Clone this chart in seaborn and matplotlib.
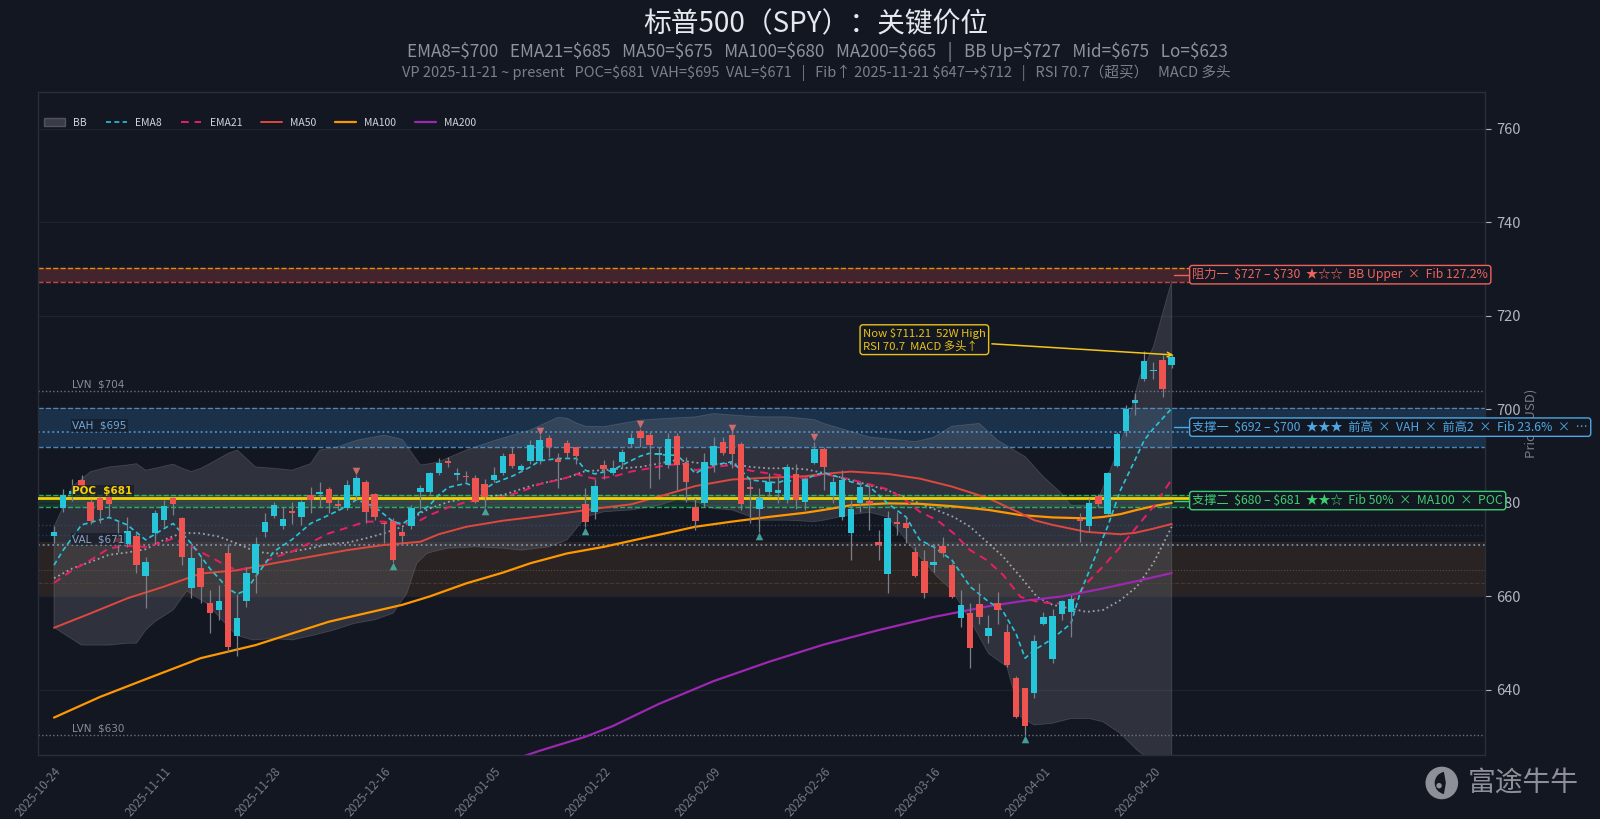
import numpy as np
import pandas as pd
import matplotlib
matplotlib.use('Agg')
import matplotlib.pyplot as plt
import seaborn as sns
from matplotlib.patches import Patch, Circle, Wedge
from matplotlib.lines import Line2D

BG = '#131722'
UP = '#26c6da'
DN = '#ef5350'

# ---- daily candles (2025-10-24 .. 2026-04-22) ----
opens = [673.0, 679.0, 682.0, 685.0, 680.2, 681.1, 681.2, 672.4, 671.3, 672.9,
         664.4, 673.6, 676.3, 681.0, 676.7, 661.9, 666.0, 658.5, 657.2, 669.2,
         651.5, 659.1, 665.1, 673.8, 677.2, 675.0, 678.2, 676.9, 681.7, 681.8,
         682.9, 679.6, 679.0, 681.5, 684.4, 681.9, 675.7, 676.2, 673.8, 675.1,
         682.3, 682.3, 686.3, 689.0, 686.0, 685.8, 685.4, 684.0, 684.9, 686.3,
         690.4, 687.0, 688.9, 689.0, 693.8, 689.3, 692.9, 691.9, 679.7, 678.0,
         688.1, 686.5, 688.8, 692.6, 695.4, 694.6, 690.3, 688.0, 694.4, 688.6,
         679.2, 679.9, 688.0, 693.1, 694.6, 692.6, 683.1, 678.6, 682.4, 682.2,
         680.7, 686.2, 680.2, 688.6, 691.5, 681.5, 677.0, 673.5, 679.9, 680.5,
         671.7, 664.8, 676.0, 675.8, 669.6, 667.6, 666.7, 670.8, 666.7, 655.3,
         656.5, 658.3, 651.6, 658.7, 652.3, 642.6, 640.4, 639.3, 654.2, 646.6,
         656.2, 656.7, 676.5, 675.0, 681.5, 677.6, 687.9, 695.4, 701.4, 706.4,
         708.1, 710.5, 709.5]
highs = [675.0, 683.0, 685.2, 686.0, 680.8, 681.7, 681.7, 676.1, 677.0, 673.5,
         668.5, 678.5, 680.6, 681.3, 677.0, 670.6, 668.5, 661.4, 662.4, 671.3,
         660.6, 666.4, 672.8, 677.8, 680.2, 679.2, 680.2, 680.6, 683.5, 684.5,
         683.3, 680.9, 684.9, 685.9, 684.9, 682.2, 676.0, 676.7, 674.9, 679.5,
         683.8, 686.7, 689.5, 689.9, 687.4, 686.8, 686.0, 685.2, 687.7, 690.6,
         692.0, 688.4, 693.4, 694.5, 694.5, 690.6, 693.4, 692.0, 683.1, 685.2,
         689.2, 689.2, 691.6, 694.9, 695.9, 695.2, 692.0, 694.9, 694.9, 689.9,
         681.0, 690.6, 694.1, 694.1, 695.2, 693.1, 684.9, 683.1, 686.3, 685.6,
         688.4, 688.4, 685.6, 693.1, 692.0, 685.6, 687.0, 680.6, 684.5, 683.8,
         674.3, 678.3, 678.1, 677.0, 670.6, 669.9, 671.3, 672.8, 667.1, 661.4,
         658.5, 662.8, 656.0, 661.0, 654.2, 642.9, 640.4, 651.7, 656.7, 657.4,
         659.2, 660.3, 677.9, 681.0, 682.0, 686.7, 695.2, 700.9, 703.4, 712.5,
         710.2, 711.6, 711.9]
lows = [671.5, 678.0, 680.5, 682.0, 675.5, 675.6, 677.0, 669.5, 670.6, 665.0,
        657.5, 671.3, 674.9, 677.4, 666.7, 659.6, 658.5, 652.1, 655.0, 648.2,
        647.2, 657.8, 660.8, 672.8, 676.7, 674.5, 675.5, 675.3, 677.8, 679.2,
        677.8, 678.5, 678.5, 680.6, 675.6, 676.3, 671.4, 667.4, 671.4, 674.5,
        678.8, 682.0, 686.0, 687.7, 684.9, 684.5, 679.9, 679.2, 684.5, 686.0,
        687.4, 686.7, 688.4, 688.4, 689.9, 683.1, 689.5, 688.4, 674.9, 676.5,
        685.2, 686.0, 687.4, 692.0, 692.0, 683.1, 685.2, 687.4, 682.7, 680.2,
        674.2, 679.2, 686.7, 690.2, 687.4, 678.5, 675.6, 673.8, 681.3, 679.9,
        679.9, 678.8, 678.5, 688.4, 682.7, 679.9, 676.3, 667.9, 678.1, 674.2,
        667.9, 660.7, 673.1, 671.4, 664.2, 659.6, 665.3, 668.5, 659.6, 653.5,
        644.8, 654.2, 650.0, 654.2, 645.0, 634.0, 630.4, 638.2, 653.9, 645.7,
        655.0, 651.4, 671.7, 673.8, 679.2, 677.4, 687.7, 694.3, 698.8, 706.1,
        706.6, 702.7, 708.8]
closes = [673.7, 681.7, 682.6, 683.7, 676.2, 678.4, 679.7, 671.7, 673.9, 666.8,
          667.4, 677.8, 679.3, 679.7, 668.5, 668.3, 662.1, 656.5, 659.0, 649.1,
          655.3, 665.1, 671.3, 676.0, 679.5, 676.5, 677.8, 680.1, 680.7, 682.3,
          679.9, 679.4, 683.8, 685.4, 678.1, 677.0, 675.5, 667.8, 672.9, 679.0,
          683.1, 686.3, 688.6, 688.6, 686.3, 685.5, 680.2, 681.3, 686.0, 690.0,
          687.9, 687.9, 692.4, 693.4, 692.0, 688.7, 690.6, 690.0, 676.0, 683.6,
          687.2, 687.5, 690.9, 693.8, 693.8, 692.4, 690.7, 693.6, 688.0, 684.5,
          676.1, 688.8, 692.2, 690.6, 690.4, 679.7, 683.0, 681.1, 684.5, 682.7,
          687.7, 680.7, 685.2, 691.5, 687.7, 684.4, 684.8, 678.7, 683.5, 679.7,
          670.9, 676.7, 675.5, 674.7, 664.4, 660.7, 667.4, 669.2, 659.8, 658.2,
          648.9, 655.7, 653.3, 657.2, 645.3, 634.2, 632.2, 650.4, 655.5, 655.9,
          659.0, 659.4, 676.2, 680.0, 679.8, 686.3, 694.7, 700.1, 702.0, 710.3,
          708.3, 704.3, 711.21]

xtick_labels = ['2025-10-24', '2025-11-11', '2025-11-28', '2025-12-16', '2026-01-05',
                '2026-01-22', '2026-02-09', '2026-02-26', '2026-03-16', '2026-04-01',
                '2026-04-20']
xtick_pos = [0, 12, 24, 36, 48, 60, 72, 84, 96, 108, 120]

# ---- indicator lines (bar index, price) ----
ema8_x = [0, 1, 3, 6, 8, 10, 12, 13, 15, 17, 19, 20, 21, 22, 24, 26, 28, 30, 32, 33, 35, 37, 38, 40,
          41, 42, 43, 45, 46, 47, 48, 50, 52, 53, 55, 57, 58, 59, 61, 62, 64, 65, 67, 68, 69, 70, 71,
          72, 74, 75, 76, 78, 79, 80, 81, 83, 84, 85.5, 87, 89, 91, 93, 94.5, 96, 98, 100, 102,
          103.5, 105, 106, 107, 109, 111, 112, 113.5, 115, 116.4, 118, 119, 120, 122]
ema8_y = [666.7, 669.9, 675.3, 676.9, 675.3, 672.1, 674.5, 675.6, 671.3, 666.0, 661.7, 660.5,
          661.4, 664.2, 669.6, 672.2, 675.6, 677.4, 679.3, 680.7, 679.2, 676.0, 675.5, 678.1,
          679.5, 681.7, 683.3, 684.2, 683.3, 682.9, 684.2, 685.7, 687.7, 689.0, 689.5, 689.5,
          687.0, 686.2, 687.0, 688.1, 690.0, 690.6, 690.2, 690.2, 688.4, 686.3, 687.4, 688.1,
          688.8, 687.0, 684.9, 684.5, 684.3, 685.0, 684.2, 685.9, 686.5, 685.6, 684.5, 683.5,
          679.9, 677.0, 672.1, 670.6, 667.8, 662.1, 658.9, 657.1, 652.1, 646.8, 648.5, 651.0,
          654.2, 660.7, 667.8, 674.9, 682.7, 689.2, 693.4, 695.9, 700.2]

ema21_x = [0, 2, 4, 6, 8, 10, 12, 13, 15, 17, 19, 20, 22, 24, 26, 28, 30, 32, 34, 36, 38, 40, 41,
           43, 45, 47, 49, 51, 53, 55, 56, 57, 58, 59, 61, 63, 65, 67, 69, 70, 72, 74, 76, 78, 80,
           82, 84, 87, 89, 91, 92.7, 94.5, 96.4, 98.2, 100, 101.8, 103.6, 105.5, 107.3, 109, 111,
           112.7, 114.5, 116.4, 118.2, 120, 122]
ema21_y = [662.9, 665.6, 667.8, 670.3, 670.8, 670.6, 671.7, 672.4, 670.6, 668.5, 666.4, 665.6,
           666.5, 668.3, 669.6, 671.5, 673.5, 674.7, 676.0, 676.0, 675.3, 676.3, 677.4, 679.0,
           680.2, 680.7, 681.3, 682.4, 684.0, 684.9, 685.4, 686.2, 685.6, 685.2, 685.6, 686.7,
           687.4, 688.1, 688.4, 687.0, 687.7, 688.1, 686.9, 686.3, 685.7, 685.2, 686.2, 685.0,
           684.0, 682.9, 681.0, 678.1, 676.3, 673.5, 669.9, 667.8, 664.6, 659.9, 658.9, 658.5,
           658.5, 662.8, 666.4, 670.6, 674.9, 679.2, 685.0]

mid_x = [0, 2, 4, 6, 8, 10, 12, 14, 16, 18, 20, 22, 24, 26, 28, 30, 32, 34, 36, 38, 40, 41, 43,
         45, 49, 52, 56, 58, 60, 62, 64, 66, 68, 70, 72, 74, 76, 78, 80, 82, 84, 87, 89, 91, 92.7,
         94.5, 98.2, 100, 101.8, 103.6, 105.5, 107.3, 109, 111, 112.7, 114.5, 116.4, 118.2, 120, 122]
mid_y = [663.9, 666.0, 667.4, 668.9, 669.4, 670.1, 672.1, 673.6, 673.5, 672.8, 671.3, 669.6,
         669.1, 669.6, 670.3, 671.2, 671.5, 672.4, 673.5, 674.9, 677.8, 678.8, 680.2, 681.0,
         681.7, 683.6, 685.4, 686.8, 687.0, 687.4, 687.7, 688.4, 689.2, 688.6, 688.3, 688.4,
         687.7, 687.4, 687.4, 687.2, 686.4, 684.9, 683.8, 682.7, 681.3, 679.9, 677.0, 674.9,
         671.7, 668.5, 664.2, 659.9, 658.2, 657.4, 656.7, 657.1, 659.2, 662.1, 667.1, 674.9]

ma50_x = [0, 4, 8, 12, 14, 16, 20, 24, 28, 32, 36, 40, 42, 45, 49, 52, 56, 60, 63, 67, 70, 74,
          78, 82, 84, 87, 91, 94.5, 98, 102, 105.5, 107, 109, 112.7, 116.4, 118, 120, 122]
ma50_y = [653.3, 656.4, 659.6, 662.1, 663.5, 664.9, 665.6, 667.1, 668.5, 669.9, 671.0, 671.7,
          673.3, 674.9, 676.2, 676.9, 677.9, 679.0, 679.7, 681.9, 683.6, 685.0, 685.4, 685.7,
          686.2, 686.7, 686.2, 685.2, 683.5, 681.0, 677.8, 676.3, 675.3, 673.8, 673.3, 673.6,
          674.5, 675.5]

ma100_x = [0, 5, 10, 14, 16, 19, 22, 26, 30, 34, 38, 41, 45, 49, 52, 56, 60, 63, 67, 70, 74, 78,
           82, 84, 87, 91, 94.5, 98, 102, 105.5, 109, 112.7, 114.5, 116.4, 118.2, 120, 122]
ma100_y = [634.1, 638.5, 642.3, 645.3, 646.8, 648.2, 649.6, 652.1, 654.6, 656.4, 658.2, 660.0,
           662.8, 665.1, 667.1, 669.2, 670.6, 671.9, 673.6, 674.9, 676.0, 677.0, 677.9, 678.5,
           679.5, 679.9, 679.8, 679.3, 678.5, 677.4, 676.9, 676.7, 677.0, 677.6, 678.5, 679.3,
           680.0]

ma200_x = [50, 53, 58, 61, 66, 72, 78, 84, 90, 96, 102, 106, 110, 114, 118, 122]
ma200_y = [625.0, 627.0, 630.0, 632.3, 637.0, 641.9, 646.0, 649.7, 652.8, 655.6, 657.9, 659.1,
           660.0, 661.5, 663.2, 665.0]

bb_up_x = [0, 1, 2, 4, 6, 8, 9, 10, 11, 13, 14, 15, 16, 17, 19, 20, 21, 22, 24, 26, 28, 29, 31,
           33, 35, 36, 38, 40, 41, 42, 45, 48, 52, 55, 56, 57, 58, 60, 62, 64, 67, 70, 72, 74, 77,
           80, 83, 84, 89, 94, 96, 98, 101, 103, 106, 108, 110, 111, 113, 114, 115, 116, 117.5,
           118.5, 120, 121, 122]
bb_up_y = [674.9, 679.2, 683.5, 686.7, 687.7, 688.1, 688.4, 687.0, 687.4, 688.3, 687.4, 686.7,
           687.4, 688.4, 690.6, 691.3, 689.5, 687.7, 687.4, 687.0, 688.4, 691.3, 692.0, 693.4,
           694.1, 694.5, 693.6, 688.1, 688.4, 688.8, 691.3, 693.3, 695.6, 698.3, 698.1, 697.1,
           696.4, 696.3, 697.0, 697.7, 698.1, 698.4, 699.1, 698.8, 698.4, 698.4, 697.8, 697.0,
           694.1, 693.1, 694.0, 696.4, 697.0, 693.4, 689.9, 685.6, 682.0, 679.5, 679.5, 681.0,
           685.6, 690.6, 699.1, 707.0, 713.4, 720.5, 727.5]
bb_lo_x = [0, 1, 3, 6, 8, 9, 10, 11, 13, 14.5, 15.5, 16.7, 18, 19.9, 21.7, 24, 26, 28.3, 30.5,
           32.7, 35, 37, 38.5, 39.6, 40.7, 42, 43, 46, 49, 51, 54, 56, 57, 58, 60, 63, 66, 68, 70,
           72, 74, 75, 77, 80, 83, 84, 87, 89, 91, 93, 94.5, 96.4, 98, 100, 102, 104, 105.5, 107,
           109, 111, 113, 114.5, 116.4, 118.2, 120, 122]
bb_lo_y = [653.4, 652.1, 649.6, 649.6, 650.0, 650.0, 652.8, 654.6, 657.1, 661.2, 659.9, 658.5,
           655.7, 651.7, 650.7, 651.0, 650.7, 651.7, 652.8, 654.2, 655.0, 656.4, 660.6, 667.1,
           669.2, 669.9, 670.3, 670.6, 670.3, 669.9, 670.6, 672.1, 674.5, 677.0, 678.1, 678.5,
           679.5, 680.7, 680.3, 678.8, 678.5, 677.8, 676.3, 676.3, 676.0, 676.3, 677.5, 678.0,
           677.0, 672.1, 668.5, 664.2, 661.4, 654.9, 647.8, 645.0, 634.3, 632.5, 632.9, 633.9,
           633.9, 633.2, 630.7, 627.2, 624.5, 623.0]

swing_high_idx = [33, 53, 64, 74, 83]
swing_low_idx = [37, 47, 58, 77, 106]

sns.set_theme(style='dark')
plt.rcParams['font.family'] = ['Noto Sans CJK SC', 'DejaVu Sans']
plt.rcParams['axes.unicode_minus'] = False
plt.rcParams['text.parse_math'] = False

fig = plt.figure(figsize=(16, 8.19), dpi=100, facecolor=BG)
ax = fig.add_axes([0.02363, 0.07814, 0.9045, 0.80977], facecolor=BG)

n = len(closes)
idx = np.arange(n)
o = np.array(opens); c = np.array(closes); h = np.array(highs); l = np.array(lows)

# Bollinger band
ax.fill(bb_up_x + bb_lo_x[::-1], bb_up_y + bb_lo_y[::-1], color='#787b86', alpha=0.28,
        ec='#9598a1', lw=0.6, zorder=1)

# zones
ax.axhspan(727.3, 730.3, color='#ef5350', alpha=0.22, lw=0, zorder=0.5)
ax.axhline(730.3, color='#ff9800', ls='--', lw=1, alpha=0.9)
ax.axhline(727.3, color='#ef5350', ls='--', lw=1, alpha=0.8)
ax.axhspan(692.0, 700.3, color='#2f6fa8', alpha=0.30, lw=0, zorder=0.5)
ax.axhline(700.3, color='#4f94d0', ls='--', lw=1, alpha=0.9)
ax.axhline(692.0, color='#4f94d0', ls='--', lw=1, alpha=0.9)
ax.axhspan(679.05, 681.7, color='#26a65b', alpha=0.22, lw=0, zorder=0.5)
ax.axhline(681.7, color='#2ecc71', ls='--', lw=1, alpha=0.8)
ax.axhline(679.05, color='#2ecc71', ls='--', lw=1, alpha=0.8)
ax.axhspan(659.8, 671.7, color='#a0652a', alpha=0.16, lw=0, zorder=0.5)
ax.axhline(665.6, color='#7a5a3a', ls=':', lw=0.8, alpha=0.7)
ax.axhline(662.9, color='#5a4a3a', ls='--', lw=0.8, alpha=0.6)
ax.axhline(675.3, color='#3a4a66', ls=':', lw=1, alpha=0.8)
ax.axhline(673.1, color='#3a4a66', ls=':', lw=1, alpha=0.6)

# volume profile levels
ax.axhline(704.0, color='#787b86', ls=':', lw=1, alpha=0.9)
ax.axhline(630.4, color='#787b86', ls=':', lw=1, alpha=0.9)
ax.axhline(695.2, color='#5b9bd5', ls=':', lw=1.3, alpha=0.9)
ax.axhline(671.0, color='#8aa4c8', ls=':', lw=1.3, alpha=0.8)
ax.axhline(681.1, color='#f5d000', lw=2, zorder=2.6)

# indicator lines
sns.lineplot(x=mid_x, y=mid_y, ax=ax, color='#c0c3cc', linestyle=':', lw=1.3, alpha=0.75, zorder=2)
sns.lineplot(x=ma200_x, y=ma200_y, ax=ax, color='#9c27b0', lw=1.6, zorder=2)
sns.lineplot(x=ma100_x, y=ma100_y, ax=ax, color='#ff9800', lw=1.6, zorder=2)
sns.lineplot(x=ma50_x, y=ma50_y, ax=ax, color='#e0483e', lw=1.4, zorder=2)
sns.lineplot(x=ema21_x, y=ema21_y, ax=ax, color='#e91e63', linestyle=(0, (4, 3)), lw=1.4, zorder=2)
sns.lineplot(x=ema8_x, y=ema8_y, ax=ax, color=UP, linestyle=(0, (3, 2)), lw=1.2, zorder=2)

# candles
cols = np.where(c >= o, UP, DN)
ax.vlines(idx, l, h, color='#7b7f8a', lw=0.9, zorder=3)
body = np.maximum(np.abs(c - o), 0.3)
ax.bar(idx, body, bottom=np.minimum(o, c), width=0.7, color=cols, lw=0, zorder=4)

ax.scatter(swing_high_idx, h[swing_high_idx] + 0.9, marker='v', s=30, color='#e57373', alpha=0.85,
           lw=0, zorder=5)
ax.scatter(swing_low_idx, l[swing_low_idx] - 0.9, marker='^', s=30, color='#4db6ac', alpha=0.85,
           lw=0, zorder=5)

# left level labels
lkw = dict(fontsize=7.5, family='DejaVu Sans', ha='left', va='bottom', zorder=6)
ax.text(2.0, 704.3, 'LVN  $704', color='#8a8d96', **lkw)
ax.text(2.0, 695.5, 'VAH  $695', color='#6fa8dc',
        bbox=dict(fc=BG, ec='none', alpha=0.6, pad=1), **lkw)
ax.text(2.0, 681.5, 'POC  $681', color='#f5d000', weight='bold',
        bbox=dict(fc=BG, ec='none', alpha=0.6, pad=1), **lkw)
ax.text(2.0, 671.2, 'VAL  $671', color='#8aa4c8',
        bbox=dict(fc=BG, ec='none', alpha=0.6, pad=1), **lkw)
ax.text(2.0, 630.7, 'LVN  $630', color='#8a8d96', **lkw)

# right zone labels
zones = [(728.8, '阻力一  $727 – $730  ★☆☆  BB Upper  ×  Fib 127.2%', '#f0625c'),
         (696.2, '支撑一  $692 – $700  ★★★  前高  ×  VAH  ×  前高2  ×  Fib 23.6%  ×  …', '#4ea8e6'),
         (680.5, '支撑二  $680 – $681  ★★☆  Fib 50%  ×  MA100  ×  POC', '#3ccf72')]
for y, txt, col in zones:
    ax.plot([122.2, 124.0], [y, y], color=col, lw=1, clip_on=False, zorder=9)
    ax.text(124.25, y, txt, color=col, fontsize=8.8, ha='left', va='center', clip_on=False,
            zorder=10, bbox=dict(boxstyle='round,pad=0.22', fc=BG, ec=col, lw=1))

ax.annotate('Now $711.21  52W High\nRSI 70.7  MACD 多头↑', xy=(122.5, 711.6), xytext=(95.0, 714.9),
            ha='center', va='center', multialignment='left', fontsize=8.2, color='#e8c21a',
            zorder=11, bbox=dict(boxstyle='round,pad=0.25', fc=BG, ec='#e8c21a', lw=1),
            arrowprops=dict(arrowstyle='->', color='#f5c518', lw=1.1))

# axes styling
ax.set_xlim(-1.77, 156.2)
ax.set_ylim(626.1, 767.9)
ax.set_xticks(xtick_pos)
ax.set_xticklabels(xtick_labels, rotation=48, ha='right', rotation_mode='anchor',
                   fontsize=8.5, color='#9598a1')
ax.yaxis.tick_right()
ax.yaxis.set_label_position('right')
ax.set_yticks([640, 660, 680, 700, 720, 740, 760])
ax.tick_params(axis='y', colors='#b2b5be', labelsize=10.5, length=4, width=0.8, pad=4)
ax.tick_params(axis='x', colors='#787b86', length=4, width=0.8, pad=3)
ax.set_ylabel('Price (USD)', color='#787b86', fontsize=9.5, labelpad=3)
ax.set_xlabel('')
ax.grid(axis='y', color='#1f2330', lw=0.9)
ax.grid(axis='x', visible=False)
for s in ax.spines.values():
    s.set_color('#2a2e39')
    s.set_linewidth(1)

handles = [Patch(fc='#434651', ec='#5d606b', alpha=0.8, label='BB'),
           Line2D([], [], color=UP, ls=(0, (3, 2)), lw=1.2, label='EMA8'),
           Line2D([], [], color='#e91e63', ls=(0, (4, 3)), lw=1.4, label='EMA21'),
           Line2D([], [], color='#e0483e', lw=1.4, label='MA50'),
           Line2D([], [], color='#ff9800', lw=1.6, label='MA100'),
           Line2D([], [], color='#9c27b0', lw=1.6, label='MA200')]
leg = ax.legend(handles=handles, loc='upper left', ncol=6, frameon=False, fontsize=7.5,
                bbox_to_anchor=(-0.002, 0.975), handlelength=2.0, columnspacing=1.8)
for t in leg.get_texts():
    t.set_color('#d1d4dc')

# titles
fig.text(0.51, 1 - 24 / 819, '标普500（SPY）：关键价位', ha='center', va='center',
         fontsize=20, color='#e6e8ee')
fig.text(0.511, 1 - 51.5 / 819,
         'EMA8=$700   EMA21=$685   MA50=$675   MA100=$680   MA200=$665   |   '
         'BB Up=$727   Mid=$675   Lo=$623',
         ha='center', va='center', fontsize=12.3, color='#8f929b')
fig.text(0.51, 1 - 73 / 819,
         'VP 2025-11-21 ~ present   POC=$681  VAH=$695  VAL=$671   |   '
         'Fib↑ 2025-11-21 $647→$712   |   RSI 70.7（超买）   MACD 多头',
         ha='center', va='center', fontsize=10.5, color='#7c7f88')

# watermark
fig.text(0.9175, 0.044, '富途牛牛', ha='left', va='center', fontsize=20, color='#8d9099')
logo = fig.add_axes([0.8905, 0.044 - 17 / 819, 34 / 1600, 34 / 819])
logo.set_axis_off()
logo.set_xlim(0, 1); logo.set_ylim(0, 1)
logo.add_patch(Circle((0.5, 0.5), 0.48, fc='#8d9099', ec='none'))
logo.add_patch(Wedge((0.62, 0.5), 0.33, 100, 260, fc=BG, ec='none'))
logo.add_patch(Circle((0.42, 0.42), 0.08, fc='#8d9099', ec='none'))

fig.savefig('out.png', dpi=100, facecolor=BG)
